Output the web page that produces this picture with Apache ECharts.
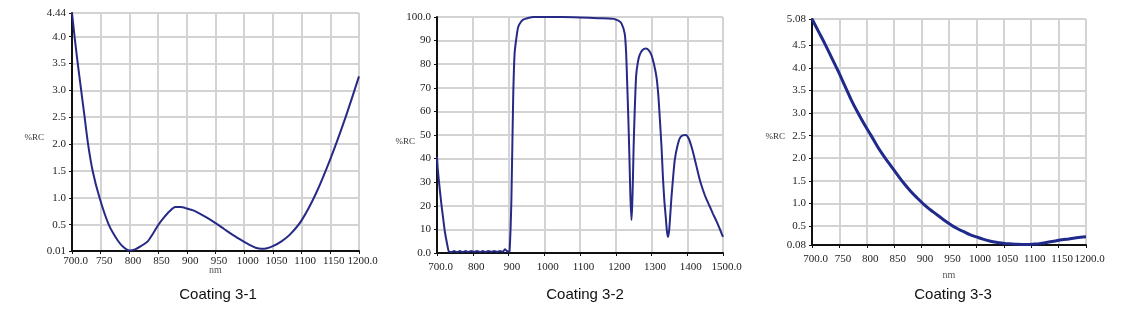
<!DOCTYPE html>
<html>
<head>
<meta charset="utf-8">
<script src="https://cdn.jsdelivr.net/npm/echarts@6/dist/echarts.min.js"></script>
<style>
  html, body { margin: 0; padding: 0; background: #fff; }
  #chart { width: 1141px; height: 327px; }
</style>
</head>
<body>
<div id="chart"></div>
<script>
// Coating 3-1
const wl1 = [700, 705, 710, 716, 722, 728, 736, 748, 764, 780, 790, 800, 810, 820, 832, 842, 850, 860, 870, 880, 890, 895, 900, 910, 920, 935, 950, 965, 980, 1000, 1010, 1020, 1030, 1040, 1050, 1065, 1080, 1100, 1125, 1150, 1175, 1200];
const r1 = [4.44, 3.95, 3.5, 3.0, 2.5, 2.0, 1.5, 1.0, 0.5, 0.2, 0.08, 0.02, 0.04, 0.1, 0.19, 0.35, 0.49, 0.63, 0.75, 0.83, 0.83, 0.82, 0.8, 0.77, 0.72, 0.63, 0.53, 0.42, 0.31, 0.18, 0.12, 0.07, 0.05, 0.06, 0.1, 0.19, 0.32, 0.58, 1.08, 1.72, 2.45, 3.26];
const yTicks1 = [0.01, 0.5, 1.0, 1.5, 2.0, 2.5, 3.0, 3.5, 4.0, 4.44];

// Coating 3-2
const wl2 = [700, 702, 707, 712, 717, 722, 726, 730, 733, 740, 748, 756, 764, 772, 780, 788, 796, 804, 812, 820, 828, 836, 844, 852, 860, 868, 876, 884, 890, 895, 900, 903, 908, 913, 917, 922, 927, 935, 941, 955, 970, 1000, 1050, 1100, 1150, 1180, 1195, 1200, 1208, 1216, 1225, 1229, 1232, 1235, 1238, 1241, 1244, 1246, 1248, 1250, 1253, 1257, 1262, 1267, 1275, 1284, 1292, 1300, 1307, 1314, 1319, 1323, 1328, 1332, 1336, 1340, 1343, 1346, 1349, 1352, 1356, 1361, 1365, 1372, 1379, 1387, 1396, 1404, 1412, 1419, 1426, 1435, 1444, 1453, 1463, 1472, 1482, 1491, 1500];
const r2 = [40.8, 36, 28, 21, 15, 9, 5.6, 2.5, 0.7, 0.4, 0.8, 0.4, 0.8, 0.4, 0.8, 0.4, 0.9, 0.5, 0.9, 0.4, 0.8, 0.4, 0.9, 0.5, 0.9, 0.4, 0.9, 0.5, 1.6, 0.9, 0.6, 0.7, 22, 65, 84.5, 91, 95.8, 98, 98.9, 99.6, 100, 100, 100, 99.8, 99.5, 99.4, 99.2, 98.9, 98.4, 97.3, 93, 85, 72, 58, 42, 24, 14, 20, 31, 45, 60, 75, 81, 84, 86, 86.6, 86, 83.8, 80, 74.5, 67, 57.7, 45, 32, 22, 15, 9.5, 6.8, 9, 15, 24, 33, 39.4, 45, 48.6, 49.8, 50, 48.5, 45, 41, 36.6, 31, 26.7, 23, 19.7, 16.6, 13.4, 10.2, 6.8];

// Coating 3-3
const wl3 = [700, 712, 724, 736, 748, 760, 772, 784, 796, 808, 820, 832, 844, 856, 868, 880, 892, 904, 916, 928, 940, 952, 964, 976, 988, 1000, 1012, 1024, 1036, 1048, 1060, 1072, 1084, 1096, 1108, 1120, 1132, 1144, 1156, 1168, 1180, 1190, 1200];
const r3 = [5.08, 4.8, 4.52, 4.22, 3.92, 3.6, 3.28, 3.0, 2.74, 2.5, 2.25, 2.03, 1.83, 1.63, 1.44, 1.27, 1.12, 0.98, 0.86, 0.75, 0.64, 0.54, 0.45, 0.38, 0.31, 0.26, 0.21, 0.17, 0.14, 0.12, 0.105, 0.097, 0.093, 0.093, 0.1, 0.12, 0.145, 0.17, 0.195, 0.215, 0.235, 0.25, 0.26];
const yTicks3 = [0.08, 0.5, 1.0, 1.5, 2.0, 2.5, 3.0, 3.5, 4.0, 4.5, 5.08];

const titles = ["Coating 3-1", "Coating 3-2", "Coating 3-3"];

const serif = "Liberation Serif";
const lineColor = "#262a86";
const gridColor = "#d3d3d3";

function pairs(xs, ys) {
  return xs.map((x, i) => [x, ys[i]]);
}

// ends get one decimal (or two for the y ends), the rest plain
function endFmt(min, max, endDec, midDec) {
  return v => {
    if (Math.abs(v - min) < 1e-9 || Math.abs(v - max) < 1e-9) return v.toFixed(endDec);
    return v.toFixed(midDec);
  };
}

function xAxis(idx, min, max, step, nm, gap, margin) {
  return {
    type: "value",
    gridIndex: idx,
    min: min,
    max: max,
    interval: step,
    name: nm,
    nameLocation: "middle",
    nameGap: gap,
    nameMoveOverlap: false,
    nameTextStyle: { fontFamily: serif, fontSize: 10, color: "#555", verticalAlign: "top" },
    axisLine: { lineStyle: { color: "#111", width: 2 } },
    axisTick: { length: 3, lineStyle: { color: "#111" } },
    axisLabel: {
      fontFamily: serif, fontSize: 11, color: "#222", margin: margin,
      padding: [0, 0, 0, 7],
      showMinLabel: true, showMaxLabel: true, hideOverlap: false,
      formatter: endFmt(min, max, 1, 0)
    },
    splitLine: { show: true, lineStyle: { color: gridColor, width: 2 } }
  };
}

function yAxis(idx, min, max, ticks, step, endDec, midDec, gap, pad) {
  const ax = {
    type: "value",
    gridIndex: idx,
    min: min,
    max: max,
    name: "%RC",
    nameLocation: "middle",
    nameRotate: 0,
    nameGap: gap,
    nameMoveOverlap: false,
    nameTextStyle: { fontFamily: serif, fontSize: 9, color: "#333", verticalAlign: "top", padding: [pad, 0, 0, 0] },
    axisLine: { show: true, lineStyle: { color: "#111", width: 2 } },
    axisTick: { show: true, length: 3, lineStyle: { color: "#111" } },
    axisLabel: {
      fontFamily: serif, fontSize: 11, color: "#222", margin: 6,
      showMinLabel: true, showMaxLabel: true,
      formatter: endFmt(min, max, endDec, midDec)
    },
    splitLine: { show: true, lineStyle: { color: gridColor, width: 2 } }
  };
  if (ticks) {
    ax.axisTick.customValues = ticks;
    ax.axisLabel.customValues = ticks;
  } else {
    ax.interval = step;
  }
  return ax;
}

const chart = echarts.init(document.getElementById("chart"));

const option = {
  backgroundColor: "#fff",
  animation: false,
  title: [
    { text: titles[0], left: 218, top: 287, textAlign: "center" },
    { text: titles[1], left: 585, top: 287, textAlign: "center" },
    { text: titles[2], left: 953, top: 287, textAlign: "center" }
  ].map(t => Object.assign(t, {
    padding: 0,
    textStyle: { fontFamily: "Liberation Sans", fontSize: 15, fontWeight: "normal", color: "#111" }
  })),
  grid: [
    { left: 72, top: 13, width: 287, height: 238 },
    { left: 437, top: 17, width: 286, height: 236 },
    { left: 812, top: 19, width: 274, height: 226 }
  ],
  xAxis: [
    xAxis(0, 700, 1200, 50, "nm", 14, 5),
    xAxis(1, 700, 1500, 100, "", 20, 9),
    xAxis(2, 700, 1200, 50, "nm", 25, 9)
  ],
  yAxis: [
    yAxis(0, 0.01, 4.44, yTicks1, null, 2, 1, 28, 1),
    yAxis(1, 0, 100, null, 10, 1, 0, 22, 2),
    yAxis(2, 0.08, 5.08, yTicks3, null, 2, 1, 27, 0)
  ],
  series: [
    {
      type: "line", xAxisIndex: 0, yAxisIndex: 0, data: pairs(wl1, r1),
      smooth: 0.3, symbol: "none", lineStyle: { color: lineColor, width: 2 }
    },
    {
      type: "line", xAxisIndex: 1, yAxisIndex: 1, data: pairs(wl2, r2),
      smooth: 0.2, symbol: "none", lineStyle: { color: lineColor, width: 2 }
    },
    {
      type: "line", xAxisIndex: 2, yAxisIndex: 2, data: pairs(wl3, r3),
      smooth: 0.4, symbol: "none", lineStyle: { color: "#1f2a8c", width: 3 }
    }
  ]
};

chart.setOption(option);
window.onresize = () => {
  chart.resize();
};
</script>
</body>
</html>
